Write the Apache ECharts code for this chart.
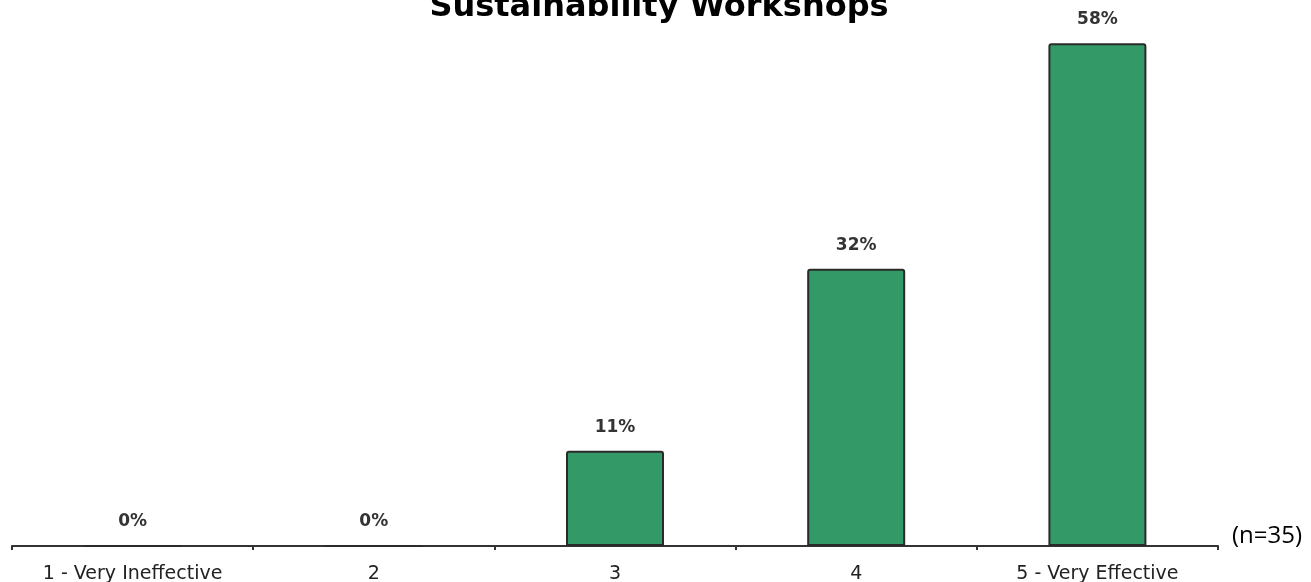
<!DOCTYPE html>
<html>
<head>
<meta charset="utf-8">
<script src="https://cdn.jsdelivr.net/npm/echarts@6/dist/echarts.min.js"></script>
<style>
  html, body { margin: 0; padding: 0; background: #fff; }
  #chart { width: 1311px; height: 582px; }
</style>
</head>
<body>
<div id="chart"></div>
<script>
// Ratings of how effective the workshops were (percent of respondents)
const categories = ['1 - Very Ineffective', '2', '3', '4', '5 - Very Effective'];
const percents = [0, 0, 11, 32, 58];
const titleText = 'Sustainability Workshops';
const sampleNote = '(n=35)';

const chart = echarts.init(document.getElementById('chart'));

chart.setOption({
  animation: false,
  backgroundColor: '#ffffff',
  title: {
    text: titleText,
    left: 654,
    textAlign: 'center',
    top: -13,
    textStyle: {
      fontFamily: 'DejaVu Sans',
      fontWeight: 'bold',
      fontSize: 32,
      color: '#000000'
    }
  },
  grid: {
    left: 12, right: 93, top: 26, bottom: 36,
    containLabel: false,
    outerBoundsMode: 'none'
  },
  xAxis: {
    type: 'category',
    data: categories,
    axisLine: { show: true, lineStyle: { color: '#333333', width: 2 } },
    axisTick: { show: true, alignWithLabel: false, length: 4, inside: false, lineStyle: { color: '#333333', width: 2 } },
    axisLabel: {
      margin: 19,
      fontFamily: 'DejaVu Sans',
      fontSize: 19,
      color: '#222222'
    }
  },
  yAxis: {
    type: 'value',
    min: 0,
    max: 60,
    show: false,
    splitLine: { show: false }
  },
  series: [{
    type: 'bar',
    data: percents,
    barWidth: 98,
    itemStyle: {
      color: '#339966',
      borderColor: '#2a2a2a',
      borderWidth: 2,
      borderRadius: [2, 2, 0, 0]
    },
    label: {
      show: true,
      position: 'top',
      distance: 15,
      formatter: p => p.value + '%',
      fontFamily: 'DejaVu Sans',
      fontWeight: 'bold',
      fontSize: 17,
      color: '#333333'
    }
  }],
  graphic: [{
    type: 'text',
    left: 1232,
    top: 524,
    style: {
      text: sampleNote,
      font: '24px "Open Sans"',
      fill: '#000000'
    }
  }]
});
</script>
</body>
</html>
